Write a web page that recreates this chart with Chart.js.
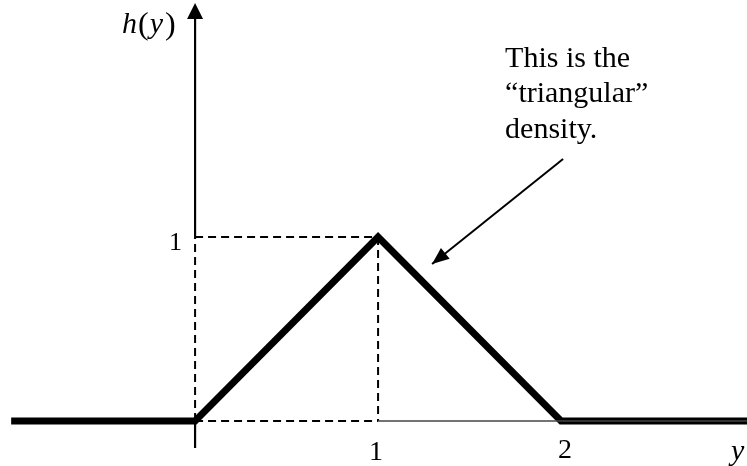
<!DOCTYPE html>
<html>
<head>
<meta charset="utf-8">
<script src="https://cdn.jsdelivr.net/npm/chart.js@4.4.1/dist/chart.umd.min.js"></script>
<style>
  html, body { margin: 0; padding: 0; background: #fff; }
  #wrap { width: 747px; height: 466px; }
</style>
</head>
<body>
<div id="wrap"><canvas id="c" width="747" height="466"></canvas></div>
<script>
// ---- data ----
const densityX = [-1.005, 0, 1, 2, 3.1];
const densityY = [0, 0, 1, 0, 0];
const xTickValues = [1, 2];
const xTickLabels = ['1', '2'];
const yTickValues = [1];
const yTickLabels = ['1'];
const peakX = 1;
const peakY = 1;
const annotationLines = ['This is the', '\u201Ctriangular\u201D', 'density.'];
const arrowFrom = { x: 2.011, y: 1.424 };
const arrowTo = { x: 1.295, y: 0.853 };
const textAnchor = { x: 1.694, y: 1.924 };
const xRange = [-1.066, 3.016];
const yRange = [-0.245, 2.288];

const pts = densityX.map((x, i) => ({ x: x, y: densityY[i] }));

const dashStyle = { borderColor: '#000', borderWidth: 2, borderDash: [8, 5], pointRadius: 0, showLine: true, fill: false };

const datasets = [
  // thin x axis (solid part right of 1)
  { data: [{x: peakX, y: 0}, {x: 3.1, y: 0}], borderColor: '#444', borderWidth: 1.5, pointRadius: 0, showLine: true },
  // y axis solid parts
  { data: [{x: 0, y: peakY}, {x: 0, y: 2.25}], borderColor: '#000', borderWidth: 2.2, pointRadius: 0, showLine: true },
  { data: [{x: 0, y: 0}, {x: 0, y: -0.147}], borderColor: '#000', borderWidth: 2.2, pointRadius: 0, showLine: true },
  // dashed guides
  Object.assign({ data: [{x: 0, y: peakY}, {x: peakX, y: peakY}] }, dashStyle),
  Object.assign({ data: [{x: peakX, y: peakY}, {x: peakX, y: 0}] }, dashStyle),
  Object.assign({ data: [{x: 0, y: 0}, {x: 0, y: peakY}] }, dashStyle),
  Object.assign({ data: [{x: 0, y: 0}, {x: peakX, y: 0}] }, dashStyle),
  // annotation arrow shaft
  { data: [arrowFrom, arrowTo], borderColor: '#000', borderWidth: 2, pointRadius: 0, showLine: true },
  // the density
  { data: pts, borderColor: '#000', borderWidth: 7, pointRadius: 0, showLine: true, borderJoinStyle: 'miter', borderCapStyle: 'butt' }
];

const SERIF = '"Liberation Serif", "Times New Roman", serif';

const decor = {
  id: 'decor',
  afterDatasetsDraw(chart) {
    const ctx = chart.ctx;
    const xs = chart.scales.x, ys = chart.scales.y;
    const px = v => xs.getPixelForValue(v), py = v => ys.getPixelForValue(v);
    ctx.save();
    ctx.fillStyle = '#000';
    // y-axis arrowhead
    const ax = px(0);
    ctx.beginPath();
    ctx.moveTo(ax, 3);
    ctx.lineTo(ax - 8, 19);
    ctx.lineTo(ax + 8, 19);
    ctx.closePath();
    ctx.fill();
    // annotation arrowhead
    const fx = px(arrowFrom.x), fy = py(arrowFrom.y), tx = px(arrowTo.x), ty = py(arrowTo.y);
    const ang = Math.atan2(ty - fy, tx - fx);
    const L = 17, W = 7;
    ctx.beginPath();
    ctx.moveTo(tx, ty);
    ctx.lineTo(tx - L * Math.cos(ang) + W * Math.sin(ang), ty - L * Math.sin(ang) - W * Math.cos(ang));
    ctx.lineTo(tx - L * Math.cos(ang) - W * Math.sin(ang), ty - L * Math.sin(ang) + W * Math.cos(ang));
    ctx.closePath();
    ctx.fill();
    // tick labels
    ctx.font = '28px ' + SERIF;
    ctx.textAlign = 'center';
    ctx.textBaseline = 'alphabetic';
    xTickValues.forEach((v, i) => ctx.fillText(xTickLabels[i], px(v) + (i === 1 ? 4 : -2), py(0) + (i === 1 ? 37 : 39)));
    ctx.font = '26px ' + SERIF;
    ctx.textAlign = 'right';
    yTickValues.forEach((v, i) => ctx.fillText(yTickLabels[i], px(0) - 13, py(v) + 13));
    // axis name y
    ctx.font = 'italic 30px ' + SERIF;
    ctx.textAlign = 'left';
    ctx.fillText('y', 731, py(0) + 39);
    // h(y)
    let x0 = 122, base = 33;
    ctx.font = 'italic 30px ' + SERIF;
    ctx.fillText('h', x0, base);
    x0 += ctx.measureText('h').width + 1;
    ctx.font = '32px ' + SERIF;
    ctx.fillText('(', x0, base + 1);
    x0 += ctx.measureText('(').width + 1;
    ctx.font = 'italic 30px ' + SERIF;
    ctx.fillText('y', x0, base);
    x0 += ctx.measureText('y').width + 2;
    ctx.font = '32px ' + SERIF;
    ctx.fillText(')', x0, base + 1);
    // annotation text
    ctx.font = '30px ' + SERIF;
    const tx0 = px(textAnchor.x), ty0 = py(textAnchor.y);
    annotationLines.forEach((s, i) => ctx.fillText(s, tx0, ty0 + i * 35.5));
    ctx.restore();
  }
};

new Chart(document.getElementById('c'), {
  type: 'scatter',
  data: { datasets: datasets },
  options: {
    responsive: false,
    animation: false,
    layout: { padding: 0 },
    plugins: { legend: { display: false }, tooltip: { enabled: false } },
    scales: {
      x: { type: 'linear', min: xRange[0], max: xRange[1], display: false },
      y: { type: 'linear', min: yRange[0], max: yRange[1], display: false }
    }
  },
  plugins: [decor]
});
</script>
</body>
</html>
